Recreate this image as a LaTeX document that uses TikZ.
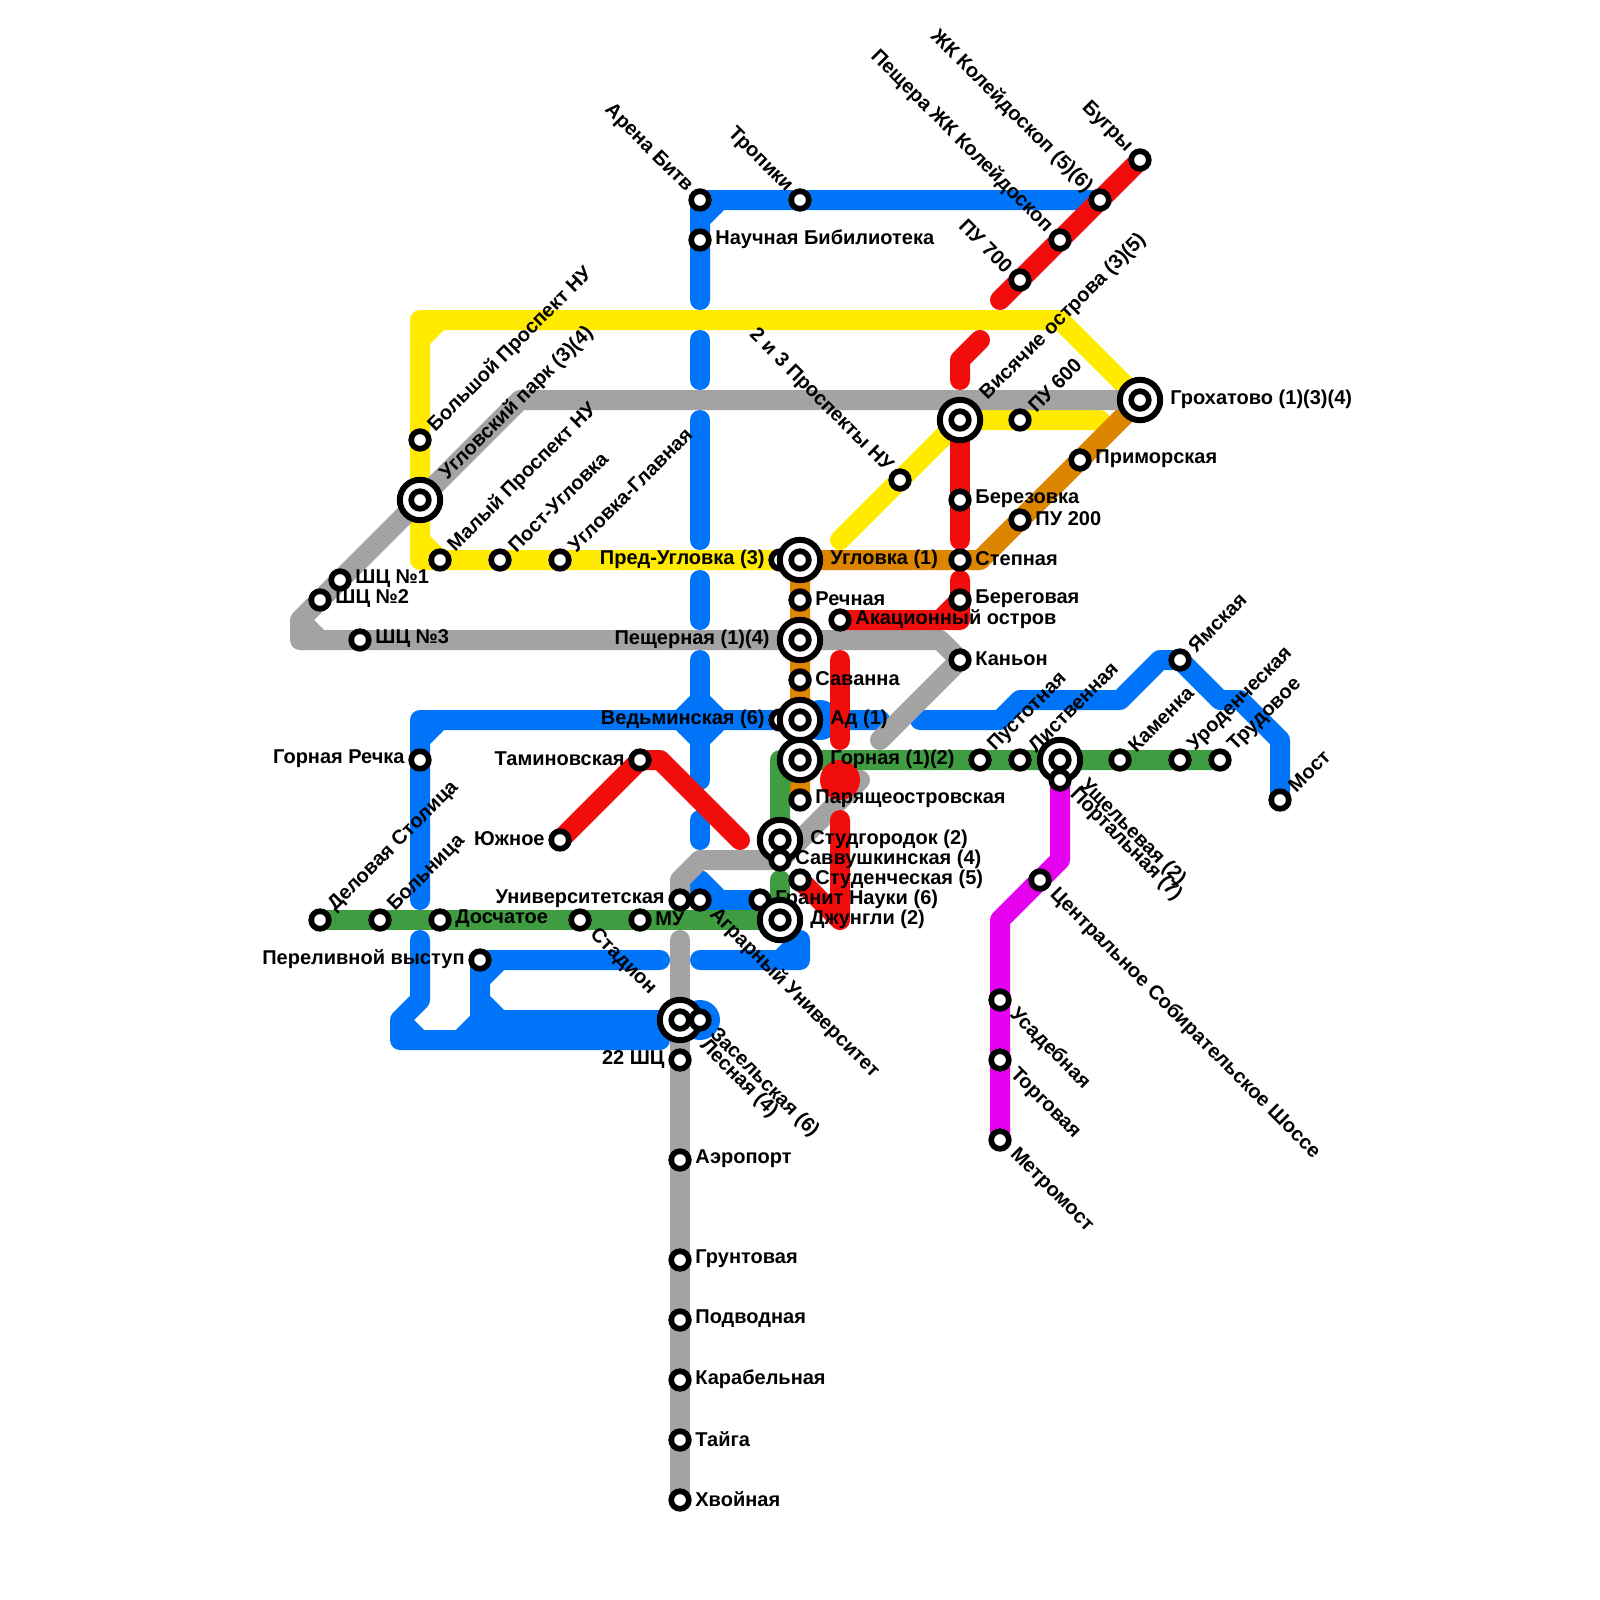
\documentclass[tikz,border=0pt]{standalone}
\usepackage{xcolor}
\usepackage{fontspec}
\setmainfont{Liberation Sans}
\usetikzlibrary{backgrounds}
\definecolor{lineBlue}{RGB}{0,116,248}
\definecolor{lineYellow}{RGB}{255,234,0}
\definecolor{lineGrey}{RGB}{163,163,163}
\definecolor{lineOrange}{RGB}{222,133,0}
\definecolor{lineRed}{RGB}{242,13,13}
\definecolor{lineGreen}{RGB}{64,156,64}
\definecolor{lineMagenta}{RGB}{230,0,240}
\tikzset{
  metro/.style={line width=10pt,line cap=round,line join=round},
  station/.style={circle,draw=black,fill=white,line width=2.85pt,minimum size=8.8pt,inner sep=0pt},
  hubring/.style={circle,draw=black,fill=white,line width=3pt,minimum size=20.2pt,inner sep=0pt},
  blob/.style={circle,minimum size=20pt,inner sep=0pt},
  lbl/.style={font=\bfseries\fontsize{10}{10}\selectfont,inner sep=0pt,text=black},
  lble/.style={lbl,anchor=west,xshift=7.5pt,yshift=0.5pt},
  lblw/.style={lbl,anchor=east,xshift=-7.5pt,yshift=0.5pt},
  lblhe/.style={lbl,anchor=west,xshift=15pt,yshift=0.5pt},
  lblne/.style={lbl,anchor=west,rotate=45,xshift=8pt},
  lblhne/.style={lbl,anchor=west,rotate=45,xshift=16.5pt},
  lblse/.style={lbl,anchor=west,rotate=-45,xshift=8.5pt,yshift=0.5pt},
  lblhse/.style={lbl,anchor=west,rotate=-45,xshift=16pt},
  lblnw/.style={lbl,anchor=east,rotate=-45,xshift=-7.5pt},
}
\begin{document}
\begin{tikzpicture}[x=0.5pt,y=0.5pt,yscale=-1,xscale=1]
  \useasboundingbox (0,0) rectangle (1600,1600);

  % Stations that sit under a ring
  \node [station] (predugl) at (780,560) {};
  \node [station] (vedm) at (780,720) {};
  \node [station] (granit) at (760,900) {};
  \node [lble] (granitT) at (granit.center) {Гранит Науки (6)};

  % Interchange rings
  \node [hubring] (grohatovoR) at (1140,400) {};
  \node [hubring] (visyachR) at (960,420) {};
  \node [hubring] (uglparkR) at (420,500) {};
  \node [hubring] (uglovkaR) at (800,560) {};
  \node [hubring] (peschR) at (800,640) {};
  \node [hubring] (adR) at (800,720) {};
  \node [hubring] (gornayaR) at (800,760) {};
  \node [hubring] (ushchR) at (1060,760) {};
  \node [hubring] (studgR) at (780,840) {};
  \node [hubring] (dzhungR) at (780,920) {};
  \node [hubring] (lesnayaR) at (680,1020) {};

  % Stations
  \node [station] (arena) at (700,200) {};
  \node [station] (nauch) at (700,240) {};
  \node [station] (tropiki) at (800,200) {};
  \node [station] (bugry) at (1140,160) {};
  \node [station] (zhk) at (1100,200) {};
  \node [station] (peshchera) at (1060,240) {};
  \node [station] (pu700) at (1020,280) {};
  \node [station] (grohatovo) at (1140,400) {};
  \node [station] (visyach) at (960,420) {};
  \node [station] (pu600) at (1020,420) {};
  \node [station] (primor) at (1080,460) {};
  \node [station] (prosp23) at (900,480) {};
  \node [station] (berez) at (960,500) {};
  \node [station] (pu200) at (1020,520) {};
  \node [station] (stepn) at (960,560) {};
  \node [station] (bereg) at (960,600) {};
  \node [station] (akac) at (840,620) {};
  \node [station] (kanyon) at (960,660) {};
  \node [station] (bolshoi) at (420,440) {};
  \node [station] (uglpark) at (420,500) {};
  \node [station] (malyi) at (440,560) {};
  \node [station] (postugl) at (500,560) {};
  \node [station] (uglglav) at (560,560) {};
  \node [station] (uglovka) at (800,560) {};
  \node [station] (rechn) at (800,600) {};
  \node [station] (pesch) at (800,640) {};
  \node [station] (savanna) at (800,680) {};
  \node [station] (ad) at (800,720) {};
  \node [station] (gornaya) at (800,760) {};
  \node [station] (parya) at (800,800) {};
  \node [station] (shc1) at (340,580) {};
  \node [station] (shc2) at (320,600) {};
  \node [station] (shc3) at (360,640) {};
  \node [station] (gorrech) at (420,760) {};
  \node [station] (tamin) at (640,760) {};
  \node [station] (yuzhn) at (560,840) {};
  \node [station] (studg) at (780,840) {};
  \node [station] (savv) at (780,860) {};
  \node [station] (studench) at (800,880) {};
  \node [station] (univ) at (680,900) {};
  \node [station] (agrar) at (700,900) {};
  \node [station] (delov) at (320,920) {};
  \node [station] (boln) at (380,920) {};
  \node [station] (dosch) at (440,920) {};
  \node [station] (stadion) at (580,920) {};
  \node [station] (mu) at (640,920) {};
  \node [station] (dzhung) at (780,920) {};
  \node [station] (perel) at (480,960) {};
  \node [station] (lesnaya) at (680,1020) {};
  \node [station] (zasel) at (700,1020) {};
  \node [station] (shc22) at (680,1060) {};
  \node [station] (aerop) at (680,1160) {};
  \node [station] (grunt) at (680,1260) {};
  \node [station] (podv) at (680,1320) {};
  \node [station] (karab) at (680,1380) {};
  \node [station] (taiga) at (680,1440) {};
  \node [station] (hvoin) at (680,1500) {};
  \node [station] (pustot) at (980,760) {};
  \node [station] (listv) at (1020,760) {};
  \node [station] (ushch) at (1060,760) {};
  \node [station] (kamenka) at (1120,760) {};
  \node [station] (urod) at (1180,760) {};
  \node [station] (trud) at (1220,760) {};
  \node [station] (yamsk) at (1180,660) {};
  \node [station] (most) at (1280,800) {};
  \node [station] (portal) at (1060,780) {};
  \node [station] (centr) at (1040,880) {};
  \node [station] (usad) at (1000,1000) {};
  \node [station] (torg) at (1000,1060) {};
  \node [station] (metrom) at (1000,1140) {};

  % Bends and free ends
  \coordinate (yTopR) at (1060,320);
  \coordinate (yTopL) at (420,320);
  \coordinate (yBotL) at (420,560);
  \coordinate (yChamA) at (420,340);
  \coordinate (yChamB) at (440,320);
  \coordinate (yChamC) at (420,540);
  \coordinate (yDiagEnd) at (840,540);
  \coordinate (yPuEnd) at (1100,420);
  \coordinate (oBend) at (980,560);
  \coordinate (gParkBend) at (520,400);
  \coordinate (gLeftA) at (300,620);
  \coordinate (gLeftB) at (300,640);
  \coordinate (gLeftC) at (320,640);
  \coordinate (gKanyon) at (940,640);
  \coordinate (gKanyonEnd) at (880,740);
  \coordinate (gStudEnd) at (860,780);
  \coordinate (gUnivA) at (700,860);
  \coordinate (gUnivB) at (680,880);
  \coordinate (gSouth) at (680,940);
  \coordinate (bTopCham) at (700,220);
  \coordinate (bTopChamB) at (720,200);
  \coordinate (bV1) at (700,300);
  \coordinate (bV2a) at (700,340);
  \coordinate (bV2b) at (700,380);
  \coordinate (bV3a) at (700,420);
  \coordinate (bV3b) at (700,540);
  \coordinate (bV4a) at (700,580);
  \coordinate (bV4b) at (700,620);
  \coordinate (bV5a) at (700,660);
  \coordinate (bV5b) at (700,780);
  \coordinate (bV6a) at (700,820);
  \coordinate (bV6b) at (700,840);
  \coordinate (bV7a) at (700,880);
  \coordinate (bV7b) at (720,900);
  \coordinate (bDiaL) at (680,720);
  \coordinate (bDiaT) at (700,700);
  \coordinate (bDiaR) at (720,720);
  \coordinate (bDiaB) at (700,740);
  \coordinate (bAdBlob) at (820,720);
  \coordinate (bAdEnd) at (880,720);
  \coordinate (bWestA) at (420,720);
  \coordinate (bWestB) at (420,740);
  \coordinate (bWestC) at (440,720);
  \coordinate (bWestD) at (420,900);
  \coordinate (bLoopA) at (420,940);
  \coordinate (bLoopB) at (420,1000);
  \coordinate (bLoopC) at (400,1020);
  \coordinate (bLoopD) at (400,1040);
  \coordinate (bLoopE) at (660,1040);
  \coordinate (bLoopF) at (420,1040);
  \coordinate (bInnerA) at (660,960);
  \coordinate (bInnerB) at (480,1020);
  \coordinate (bInnerC) at (480,980);
  \coordinate (bInnerD) at (500,960);
  \coordinate (bInnerE) at (480,1000);
  \coordinate (bInnerF) at (500,1020);
  \coordinate (bInnerG) at (460,1040);
  \coordinate (bSouthA) at (700,960);
  \coordinate (bSouthB) at (800,960);
  \coordinate (bSouthC) at (800,940);
  \coordinate (bSouthD) at (780,960);
  \coordinate (bEastA) at (920,720);
  \coordinate (bEastB) at (1000,720);
  \coordinate (bEastC) at (1020,700);
  \coordinate (bEastD) at (1120,700);
  \coordinate (bEastE) at (1160,660);
  \coordinate (bEastF) at (1220,700);
  \coordinate (bEastG) at (1240,700);
  \coordinate (bEastH) at (1280,740);
  \coordinate (rTopEnd) at (1000,300);
  \coordinate (rMidA) at (980,340);
  \coordinate (rMidB) at (960,360);
  \coordinate (rMidC) at (960,380);
  \coordinate (rLowA) at (960,540);
  \coordinate (rLowB) at (960,580);
  \coordinate (rLowC) at (960,620);
  \coordinate (rLowD) at (940,620);
  \coordinate (rSavA) at (840,660);
  \coordinate (rSavB) at (840,740);
  \coordinate (rBlob) at (840,780);
  \coordinate (rStudA) at (840,820);
  \coordinate (rStudB) at (840,920);
  \coordinate (rTamin) at (660,760);
  \coordinate (rTaminEnd) at (740,840);
  \coordinate (grUp) at (780,880);
  \coordinate (grBend) at (780,760);
  \coordinate (grCham) at (780,780);
  \coordinate (mBendA) at (1060,860);
  \coordinate (mBendB) at (1000,920);

  % Lines, under the stations
  \begin{scope}[on background layer]
    \draw [metro,lineYellow] (grohatovo.center) -- (yTopR) -- (yTopL) -- (yBotL) -- (predugl.center) (yChamA) -- (yChamB) (yChamC) -- (malyi.center);
    \draw [metro,lineYellow] (yDiagEnd) -- (visyach.center) -- (yPuEnd);
    \draw [metro,lineOrange] (parya.center) -- (uglovka.center) -- (oBend) -- (grohatovo.center);
    \draw [metro,lineBlue] (zhk.center) -- (arena.center) -- (bV1) (bTopCham) -- (bTopChamB);
    \draw [metro,lineBlue] (bV2a) -- (bV2b);
    \draw [metro,lineBlue] (bV3a) -- (bV3b);
    \draw [metro,lineBlue] (bV4a) -- (bV4b);
    \draw [metro,lineBlue] (bV5a) -- (bV5b);
    \draw [metro,lineBlue] (bV6a) -- (bV6b);
    \draw [metro,lineBlue] (bV7a) -- (agrar.center) -- (granit.center) (bV7a) -- (bV7b);
    \draw [metro,lineBlue] (bDiaL) -- (bDiaT) -- (bDiaR) -- (bDiaB) -- cycle;
    \node [blob,fill=lineBlue] (adBlob) at (bAdBlob) {};
    \draw [metro,lineBlue] (bAdEnd) -- (bWestA) -- (bWestD) (bWestB) -- (bWestC);
    \draw [metro,lineBlue] (bLoopA) -- (bLoopB) -- (bLoopC) -- (bLoopD) -- (bLoopE) (bLoopC) -- (bLoopF);
    \draw [metro,lineBlue] (bInnerA) -- (perel.center) -- (bInnerB) -- (lesnaya.center) (bInnerC) -- (bInnerD) (bInnerE) -- (bInnerF) (bInnerB) -- (bInnerG);
    \node [blob,fill=lineBlue] (zaselBlob) at (zasel) {};
    \draw [metro,lineBlue] (bSouthA) -- (bSouthB) -- (bSouthC) (bSouthD) -- (bSouthC);
    \draw [metro,lineBlue] (bEastA) -- (bEastB) -- (bEastC) -- (bEastD) -- (bEastE) -- (yamsk.center) -- (bEastF) -- (bEastG) -- (bEastH) -- (most.center);
    \draw [metro,lineGrey] (grohatovo.center) -- (gParkBend) -- (gLeftA) -- (gLeftB) -- (gKanyon) -- (kanyon.center) -- (gKanyonEnd) (gLeftA) -- (gLeftC);
    \draw [metro,lineGrey] (gStudEnd) -- (savv.center) -- (gUnivA) -- (gUnivB) -- (univ.center);
    \draw [metro,lineGrey] (gSouth) -- (hvoin.center);
    \draw [metro,lineGreen] (delov.center) -- (dzhung.center) -- (grUp);
    \draw [metro,lineGreen] (studg.center) -- (grBend) -- (trud.center) (grCham) -- (gornaya.center);
    \draw [metro,lineRed] (bugry.center) -- (rTopEnd);
    \draw [metro,lineRed] (rMidA) -- (rMidB) -- (rMidC);
    \draw [metro,lineRed] (visyach.center) -- (rLowA);
    \draw [metro,lineRed] (rLowB) -- (rLowC) -- (akac.center) (bereg.center) -- (rLowD);
    \draw [metro,lineRed] (rSavA) -- (rSavB);
    \node [blob,fill=lineRed] (redBlob) at (rBlob) {};
    \draw [metro,lineRed] (rStudA) -- (rStudB) -- (studench.center);
    \draw [metro,lineRed] (yuzhn.center) -- (tamin.center) -- (rTamin) -- (rTaminEnd);
    \draw [metro,lineMagenta] (portal.center) -- (mBendA) -- (mBendB) -- (metrom.center);
  \end{scope}

  % Text Node
  \node [lblnw] (arenaT) at (arena.center) {Арена Битв};
  \node [lble] (nauchT) at (nauch.center) {Научная Бибилиотека};
  \node [lblnw] (tropikiT) at (tropiki.center) {Тропики};
  \node [lblnw] (bugryT) at (bugry.center) {Бугры};
  \node [lblnw] (zhkT) at (zhk.center) {ЖК Колейдоскоп (5)(6)};
  \node [lblnw] (peshcheraT) at (peshchera.center) {Пещера ЖК Колейдоскоп};
  \node [lblnw] (pu700T) at (pu700.center) {ПУ 700};
  \node [lblhe] (grohatovoT) at (grohatovo.center) {Грохатово (1)(3)(4)};
  \node [lblhne] (visyachT) at (visyach.center) {Висячие острова (3)(5)};
  \node [lblne] (pu600T) at (pu600.center) {ПУ 600};
  \node [lble] (primorT) at (primor.center) {Приморская};
  \node [lblnw] (prosp23T) at (prosp23.center) {2 и 3 Проспекты НУ};
  \node [lble] (berezT) at (berez.center) {Березовка};
  \node [lble] (pu200T) at (pu200.center) {ПУ 200};
  \node [lble] (stepnT) at (stepn.center) {Степная};
  \node [lble] (beregT) at (bereg.center) {Береговая};
  \node [lble] (akacT) at (akac.center) {Акационный остров};
  \node [lble] (kanyonT) at (kanyon.center) {Каньон};
  \node [lblne] (bolshoiT) at (bolshoi.center) {Большой Проспект НУ};
  \node [lblhne] (uglparkT) at (uglpark.center) {Угловский парк (3)(4)};
  \node [lblne] (malyiT) at (malyi.center) {Малый Проспект НУ};
  \node [lblne] (postuglT) at (postugl.center) {Пост-Угловка};
  \node [lblne] (uglglavT) at (uglglav.center) {Угловка-Главная};
  \node [lblw] (preduglT) at (predugl.center) {Пред-Угловка (3)};
  \node [lblhe] (uglovkaT) at (uglovka.center) {Угловка (1)};
  \node [lble] (rechnT) at (rechn.center) {Речная};
  \node [lblw,xshift=-7.5pt] (peschT) at (pesch.center) {Пещерная (1)(4)};
  \node [lble] (savannaT) at (savanna.center) {Саванна};
  \node [lblw] (vedmT) at (vedm.center) {Ведьминская (6)};
  \node [lblhe] (adT) at (ad.center) {Ад (1)};
  \node [lblhe] (gornayaT) at (gornaya.center) {Горная (1)(2)};
  \node [lble] (paryaT) at (parya.center) {Парящеостровская};
  \node [lble] (shc1T) at (shc1.center) {ШЦ №1};
  \node [lble] (shc2T) at (shc2.center) {ШЦ №2};
  \node [lble] (shc3T) at (shc3.center) {ШЦ №3};
  \node [lblw] (gorrechT) at (gorrech.center) {Горная Речка};
  \node [lblw] (taminT) at (tamin.center) {Таминовская};
  \node [lblw] (yuzhnT) at (yuzhn.center) {Южное};
  \node [lblhe] (studgT) at (studg.center) {Студгородок (2)};
  \node [lble] (savvT) at (savv.center) {Саввушкинская (4)};
  \node [lble] (studenchT) at (studench.center) {Студенческая (5)};
  \node [lblw] (univT) at (univ.center) {Университетская};
  \node [lblse] (agrarT) at (agrar.center) {Аграрный Университет};
  \node [lblne] (delovT) at (delov.center) {Деловая Столица};
  \node [lblne] (bolnT) at (boln.center) {Больница};
  \node [lble] (doschT) at (dosch.center) {Досчатое};
  \node [lblse] (stadionT) at (stadion.center) {Стадион};
  \node [lble] (muT) at (mu.center) {МУ};
  \node [lblhe] (dzhungT) at (dzhung.center) {Джунгли (2)};
  \node [lblw] (perelT) at (perel.center) {Переливной выступ};
  \node [lblhse] (lesnayaT) at (lesnaya.center) {Лесная (4)};
  \node [lblse] (zaselT) at (zasel.center) {Засельская (6)};
  \node [lblw] (shc22T) at (shc22.center) {22 ШЦ};
  \node [lble] (aeropT) at (aerop.center) {Аэропорт};
  \node [lble] (gruntT) at (grunt.center) {Грунтовая};
  \node [lble] (podvT) at (podv.center) {Подводная};
  \node [lble] (karabT) at (karab.center) {Карабельная};
  \node [lble] (taigaT) at (taiga.center) {Тайга};
  \node [lble] (hvoinT) at (hvoin.center) {Хвойная};
  \node [lblne] (pustotT) at (pustot.center) {Пустотная};
  \node [lblne] (listvT) at (listv.center) {Лиственная};
  \node [lblhse] (ushchT) at (ushch.center) {Ущельевая (2)};
  \node [lblne] (kamenkaT) at (kamenka.center) {Каменка};
  \node [lblne] (urodT) at (urod.center) {Уроденческая};
  \node [lblne] (trudT) at (trud.center) {Трудовое};
  \node [lblne] (yamskT) at (yamsk.center) {Ямская};
  \node [lblne] (mostT) at (most.center) {Мост};
  \node [lblse] (portalT) at (portal.center) {Портальная (7)};
  \node [lblse] (centrT) at (centr.center) {Центральное Собирательское Шоссе};
  \node [lblse] (usadT) at (usad.center) {Усадебная};
  \node [lblse] (torgT) at (torg.center) {Торговая};
  \node [lblse] (metromT) at (metrom.center) {Метромост};
\end{tikzpicture}
\end{document}
